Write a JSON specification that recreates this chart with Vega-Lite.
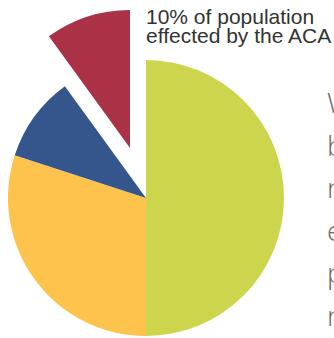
{
  "$schema": "https://vega.github.io/schema/vega-lite/v6.json",
  "width": 334,
  "height": 338,
  "padding": 0,
  "autosize": "none",
  "background": "white",
  "config": {"view": {"stroke": null}},
  "datasets": {
    "pie": [
      {"group": "Rest of population A", "share": 50, "order": 1},
      {"group": "Rest of population B", "share": 30, "order": 2},
      {"group": "Rest of population C", "share": 10, "order": 3},
      {"group": "Effected by the ACA", "share": 10, "order": 4}
    ],
    "note": [{"label": "10% of population\neffected by the ACA"}],
    "para": [{"label": "W\nb\nn\ne\np\nn"}]
  },
  "layer": [
    {
      "data": {"name": "pie"},
      "mark": {"type": "arc", "radius": 138, "xOffset": -21, "yOffset": 29},
      "encoding": {
        "theta": {"field": "share", "type": "quantitative", "stack": true, "scale": {"domain": [0, 100]}},
        "order": {"field": "order", "type": "quantitative", "sort": "ascending"},
        "color": {
          "field": "group", "type": "nominal", "legend": null,
          "scale": {
            "domain": ["Rest of population A", "Rest of population B", "Rest of population C", "Effected by the ACA"],
            "range": ["#cdd54c", "#fdc34c", "#34568c", "#a93247"]
          }
        },
        "fillOpacity": {"condition": {"test": "datum.group === 'Effected by the ACA'", "value": 0}, "value": 1}
      }
    },
    {
      "data": {"name": "pie"},
      "mark": {"type": "arc", "radius": 138, "xOffset": -37, "yOffset": -21},
      "encoding": {
        "theta": {"field": "share", "type": "quantitative", "stack": true, "scale": {"domain": [0, 100]}},
        "order": {"field": "order", "type": "quantitative", "sort": "ascending"},
        "color": {"field": "group", "type": "nominal", "legend": null},
        "fillOpacity": {"condition": {"test": "datum.group === 'Effected by the ACA'", "value": 1}, "value": 0}
      }
    },
    {
      "data": {"name": "note"},
      "mark": {"type": "text", "x": 146, "y": 24, "align": "left", "baseline": "alphabetic", "lineBreak": "\n", "lineHeight": 18.5, "font": "Liberation Sans", "fontSize": 21, "color": "#333333"},
      "encoding": {"text": {"field": "label"}}
    },
    {
      "data": {"name": "para"},
      "mark": {"type": "text", "x": 327, "y": 113, "align": "left", "baseline": "alphabetic", "lineBreak": "\n", "lineHeight": 42.6, "font": "Open Sans", "fontWeight": 300, "fontSize": 28, "color": "#666666"},
      "encoding": {"text": {"field": "label"}}
    }
  ]
}
